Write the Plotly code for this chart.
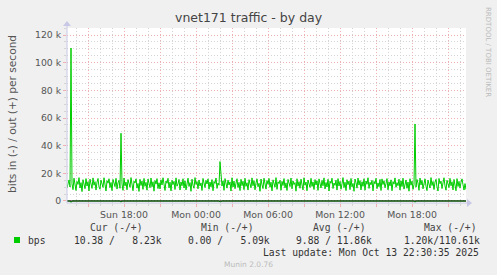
import pandas as pd
import plotly.graph_objects as go

# ---------------- data ----------------
start_time = "2025-10-12 13:15"
n_points = 400  # 5-minute samples

# out (+) traffic, kbit/s
out_k = [
    9.5, 13.8, 15.2, 10.1, 110.6, 12.4, 8.2, 16.5, 11.3, 7.6, 14.1, 12.0, 16.9, 9.4, 13.3, 6.8, 15.4, 11.7, 8.9, 16.2,
    10.8, 13.9, 7.3, 15.8, 12.2, 9.1, 16.7, 11.4, 14.0, 7.9, 13.6, 16.3, 10.2, 8.5, 15.1, 12.6, 9.8, 16.8, 11.1, 7.2,
    14.7, 12.9, 16.1, 9.7, 13.4, 7.5, 15.6, 11.8, 10.4, 16.4, 8.6, 13.1, 14.9, 9.2, 49.0, 12.3, 7.7, 16.6, 10.9, 13.7,
    8.1, 15.5, 12.1, 9.9, 16.9, 11.5, 7.4, 14.3, 13.0, 16.0, 9.3, 12.7, 6.9, 15.7, 11.2, 14.4, 8.4, 16.3, 10.6, 13.5,
    7.8, 15.9, 12.5, 9.6, 16.6, 10.3, 13.9, 7.1, 14.8, 12.2, 16.2, 9.0, 13.2, 8.7, 15.3, 11.6, 16.8, 10.0, 7.6, 14.5,
    12.8, 16.4, 9.5, 13.6, 7.3, 15.0, 11.9, 14.2, 8.3, 16.7, 10.7, 12.4, 15.6, 7.9, 13.8, 11.0, 16.1, 9.4, 14.6, 8.0,
    12.6, 16.5, 10.5, 13.3, 7.0, 15.8, 11.3, 9.2, 16.9, 12.0, 14.0, 8.8, 15.2, 10.9, 13.1, 7.6, 16.3, 11.8, 9.7, 14.9,
    12.3, 16.0, 8.5, 13.7, 10.2, 15.5, 7.4, 14.1, 12.7, 16.6, 9.1, 13.0, 11.4, 28.5, 22.0, 10.8, 14.6, 7.7, 16.2, 12.5,
    9.3, 15.1, 11.6, 13.8, 7.2, 16.8, 10.1, 14.4, 8.9, 12.9, 16.1, 9.8, 13.5, 7.5, 15.7, 11.1, 14.3, 8.2, 16.4, 10.6,
    13.2, 7.9, 15.4, 12.4, 9.6, 16.7, 11.0, 14.7, 8.1, 13.0, 16.0, 10.3, 12.8, 7.0, 15.9, 11.7, 9.0, 16.5, 13.4, 8.6,
    14.8, 12.1, 16.3, 9.9, 13.6, 7.3, 15.3, 11.5, 10.0, 16.9, 8.4, 13.9, 12.6, 15.0, 7.8, 14.2, 11.2, 16.2, 9.5, 13.1,
    7.6, 15.6, 12.0, 10.4, 16.6, 8.8, 14.5, 11.9, 13.3, 7.1, 16.1, 10.7, 14.0, 9.2, 15.8, 12.2, 8.0, 16.8, 11.4, 13.7,
    7.4, 15.2, 12.9, 9.8, 16.4, 10.5, 13.8, 8.3, 15.5, 11.6, 14.6, 7.7, 16.0, 12.3, 9.4, 14.9, 11.0, 16.7, 8.7, 13.4,
    10.1, 15.7, 7.2, 14.3, 12.8, 16.5, 9.0, 13.0, 11.3, 15.1, 7.9, 16.2, 10.8, 14.1, 8.5, 12.5, 16.9, 9.7, 13.6, 7.5,
    15.4, 11.8, 14.4, 8.2, 16.3, 10.2, 12.7, 7.0, 15.9, 13.2, 9.3, 16.6, 11.5, 14.8, 8.0, 13.9, 10.6, 16.1, 7.8, 14.5,
    12.1, 16.8, 9.1, 13.5, 11.7, 15.0, 7.3, 14.2, 12.4, 16.4, 8.9, 13.1, 10.3, 15.6, 7.6, 16.0, 11.9, 14.7, 9.6, 12.6,
    16.2, 8.1, 13.8, 10.9, 15.3, 7.4, 14.0, 12.2, 16.7, 9.9, 13.3, 11.1, 15.8, 7.9, 14.6, 10.4, 16.5, 8.6, 12.9, 15.2,
    9.2, 13.7, 7.1, 16.1, 11.4, 14.3, 8.4, 12.0, 55.7, 10.0, 15.5, 13.0, 7.7, 16.6, 11.6, 14.9, 8.8, 13.4, 16.0, 10.7,
    7.5, 15.1, 12.7, 9.4, 16.9, 11.2, 14.1, 8.3, 13.6, 15.7, 10.1, 7.2, 16.3, 12.5, 14.4, 9.0, 13.1, 16.8, 10.9, 7.8,
    15.0, 12.3, 9.7, 16.4, 11.0, 13.9, 8.0, 15.6, 12.1, 7.4, 16.2, 10.5, 14.2, 9.3, 13.5, 16.0, 11.8, 7.9, 12.6, 8.23,
]

# in (-) traffic, kbit/s (drawn negative)
in_k = [
    0.01, 0.01, 0.02, 0.01, 1.20, 0.01, 0.00, 0.01, 0.01, 0.01, 0.02, 0.01, 0.01, 0.01, 0.00, 0.01, 0.01, 0.01, 0.01, 0.02,
    0.01, 0.01, 0.01, 0.00, 0.01, 0.01, 0.01, 0.02, 0.01, 0.01, 0.01, 0.01, 0.00, 0.01, 0.01, 0.02, 0.01, 0.01, 0.01, 0.01,
    0.01, 0.00, 0.01, 0.01, 0.01, 0.02, 0.01, 0.01, 0.01, 0.01, 0.00, 0.01, 0.01, 0.01, 0.90, 0.01, 0.01, 0.02, 0.01, 0.01,
    0.01, 0.01, 0.00, 0.01, 0.01, 0.01, 0.02, 0.01, 0.01, 0.01, 0.01, 0.00, 0.01, 0.01, 0.01, 0.02, 0.01, 0.01, 0.01, 0.01,
    0.00, 0.01, 0.01, 0.01, 0.02, 0.01, 0.01, 0.01, 0.01, 0.00, 0.01, 0.01, 0.01, 0.02, 0.01, 0.01, 0.01, 0.01, 0.00, 0.01,
    0.01, 0.01, 0.02, 0.01, 0.01, 0.01, 0.01, 0.00, 0.01, 0.01, 0.01, 0.02, 0.01, 0.01, 0.01, 0.01, 0.00, 0.01, 0.01, 0.01,
    0.02, 0.01, 0.01, 0.01, 0.01, 0.00, 0.01, 0.01, 0.01, 0.02, 0.01, 0.01, 0.01, 0.01, 0.00, 0.01, 0.01, 0.01, 0.02, 0.01,
    0.01, 0.01, 0.01, 0.00, 0.01, 0.01, 0.01, 0.02, 0.01, 0.01, 0.01, 0.01, 0.00, 0.80, 0.30, 0.01, 0.01, 0.02, 0.01, 0.01,
    0.01, 0.01, 0.00, 0.01, 0.01, 0.01, 0.02, 0.01, 0.01, 0.01, 0.01, 0.00, 0.01, 0.01, 0.01, 0.02, 0.01, 0.01, 0.01, 0.01,
    0.00, 0.01, 0.01, 0.01, 0.02, 0.01, 0.01, 0.01, 0.01, 0.00, 0.01, 0.01, 0.01, 0.02, 0.01, 0.01, 0.01, 0.01, 0.00, 0.01,
    0.01, 0.01, 0.02, 0.01, 0.01, 0.01, 0.01, 0.00, 0.01, 0.01, 0.01, 0.02, 0.01, 0.01, 0.01, 0.01, 0.00, 0.01, 0.01, 0.01,
    0.02, 0.01, 0.01, 0.01, 0.01, 0.00, 0.01, 0.01, 0.01, 0.02, 0.01, 0.01, 0.01, 0.01, 0.00, 0.01, 0.01, 0.01, 0.02, 0.01,
    0.01, 0.01, 0.01, 0.00, 0.01, 0.01, 0.01, 0.02, 0.01, 0.01, 0.01, 0.01, 0.00, 0.01, 0.01, 0.01, 0.02, 0.01, 0.01, 0.01,
    0.01, 0.00, 0.01, 0.01, 0.01, 0.02, 0.01, 0.01, 0.01, 0.01, 0.00, 0.01, 0.01, 0.01, 0.02, 0.01, 0.01, 0.01, 0.01, 0.00,
    0.01, 0.01, 0.01, 0.02, 0.01, 0.01, 0.01, 0.01, 0.00, 0.01, 0.01, 0.01, 0.02, 0.01, 0.01, 0.01, 0.01, 0.00, 0.01, 0.01,
    0.01, 0.02, 0.01, 0.01, 0.01, 0.01, 0.00, 0.01, 0.01, 0.01, 0.02, 0.01, 0.01, 0.01, 0.01, 0.00, 0.01, 0.01, 0.01, 0.02,
    0.01, 0.01, 0.01, 0.01, 0.00, 0.01, 0.01, 0.01, 0.02, 0.01, 0.01, 0.01, 0.01, 0.00, 0.01, 0.01, 0.01, 0.02, 0.01, 0.01,
    0.01, 0.01, 0.00, 0.01, 0.01, 0.01, 0.02, 0.01, 1.00, 0.01, 0.01, 0.00, 0.01, 0.01, 0.01, 0.02, 0.01, 0.01, 0.01, 0.01,
    0.00, 0.01, 0.01, 0.01, 0.02, 0.01, 0.01, 0.01, 0.01, 0.00, 0.01, 0.01, 0.01, 0.02, 0.01, 0.01, 0.01, 0.01, 0.00, 0.01,
    0.01, 0.01, 0.02, 0.01, 0.01, 0.01, 0.01, 0.00, 0.01, 0.01, 0.01, 0.02, 0.01, 0.01, 0.01, 0.01, 0.00, 0.01, 0.01, 0.0104,
]

y_tick_vals = [0, 20, 40, 60, 80, 100, 120]
y_tick_text = ["0", "20 k", "40 k", "60 k", "80 k", "100 k", "120 k"]

x_tick_vals = ["2025-10-12 15:00", "2025-10-12 18:00", "2025-10-12 21:00", "2025-10-13 00:00",
               "2025-10-13 03:00", "2025-10-13 06:00", "2025-10-13 09:00", "2025-10-13 12:00",
               "2025-10-13 15:00", "2025-10-13 18:00", "2025-10-13 21:00"]
x_tick_text = ["", "Sun 18:00", "", "Mon 00:00", "", "Mon 06:00", "", "Mon 12:00", "", "Mon 18:00", ""]

title_text = "vnet171 traffic - by day"
y_title = "bits in (-) / out (+) per second"
legend_name = "bps"
col_heads = ["Cur (-/+)", "Min (-/+)", "Avg (-/+)", "Max (-/+)"]
col_vals = ["10.38 /   8.23k", "0.00 /   5.09k", "9.88 / 11.86k", "1.20k/110.61k"]
last_update = "Last update: Mon Oct 13 22:30:35 2025"
watermark = "RRDTOOL / TOBI OETIKER"
footer = "Munin 2.0.76"

# ---------------- geometry ----------------
W, H = 497, 275
L, R, T, B = 67, 466, 28, 203
PW, PH = R - L, B - T


def px(x):
    return (x - L) / PW


def py(y):
    return (B - y) / PH


times = pd.date_range(start_time, periods=n_points, freq="5min")
in_neg = [-v for v in in_k]

GREEN = "#00CC00"
fig = go.Figure()
fig.add_trace(go.Scatter(x=times, y=in_neg, mode="lines",
                         line=dict(color=GREEN, width=1), hoverinfo="skip"))
fig.add_trace(go.Scatter(x=times, y=out_k, mode="lines",
                         line=dict(color=GREEN, width=1), hoverinfo="skip"))

MAJ = "#eeb0b0"
MIN = "#d4d4d4"
DASH = "1px,2px"
fig.update_xaxes(
    range=[times[0], times[-1]],
    tickmode="array", tickvals=x_tick_vals, ticktext=x_tick_text,
    showgrid=True, gridcolor=MAJ, griddash=DASH, gridwidth=1,
    ticks="outside", ticklen=3, tickcolor=MAJ,
    minor=dict(dtick=3600000, tick0="2025-10-12 14:00", showgrid=True,
               gridcolor=MIN, griddash=DASH, ticks="outside", ticklen=2, tickcolor=MIN),
    showline=False, zeroline=False,
    tickfont=dict(family="DejaVu Sans", size=9.4, color="#555555"),
    fixedrange=True,
)
fig.update_yaxes(
    range=[-1.45, 125.1],
    tickmode="array", tickvals=y_tick_vals, ticktext=y_tick_text,
    showgrid=True, gridcolor=MAJ, griddash=DASH, gridwidth=1,
    ticks="outside", ticklen=3, tickcolor=MAJ,
    minor=dict(dtick=5, tick0=0, showgrid=True, gridcolor=MIN, griddash=DASH,
               ticks="outside", ticklen=2, tickcolor=MIN),
    showline=False, zeroline=False,
    tickfont=dict(family="DejaVu Sans", size=9.3, color="#555555"),
    fixedrange=True,
)

AX = "#c8c8e6"
shapes = [
    # zero line
    dict(type="line", xref="paper", yref="y", x0=0, x1=1, y0=0, y1=0,
         line=dict(color="#000000", width=1)),
    # axes
    dict(type="line", xref="paper", yref="paper", x0=0, x1=px(468), y0=0, y1=0,
         line=dict(color=AX, width=1)),
    dict(type="line", xref="paper", yref="paper", x0=0, x1=0, y0=0, y1=py(25),
         line=dict(color=AX, width=1)),
    # arrows
    dict(type="path", xref="paper", yref="paper",
         path=f"M {px(467)} {py(199)} L {px(472)} {py(203)} L {px(467)} {py(207)} Z",
         fillcolor=AX, line=dict(color=AX, width=0)),
    dict(type="path", xref="paper", yref="paper",
         path=f"M {px(63)} {py(26)} L {px(67)} {py(21)} L {px(71)} {py(26)} Z",
         fillcolor=AX, line=dict(color=AX, width=0)),
    # legend swatch
    dict(type="rect", xref="paper", yref="paper",
         x0=px(14), x1=px(20), y0=py(243), y1=py(237),
         fillcolor=GREEN, line=dict(width=0)),
]

MONO = "DejaVu Sans Mono"
TXT = "#333333"
ann = []


def add_text(text, x, y, size, color, family, xanchor="left", angle=0):
    ann.append(dict(text=text, x=px(x), y=py(y), xref="paper", yref="paper",
                    xanchor=xanchor, yanchor="middle", showarrow=False,
                    textangle=angle,
                    font=dict(family=family, size=size, color=color)))


MS = 9.7
add_text(title_text, 248.5, 18, 12.5, "#444444", "DejaVu Sans", xanchor="center")
add_text(y_title, 12, 114, 10.6, "#555555", "DejaVu Sans", xanchor="center", angle=-90)
add_text(watermark, 488, 52, 7, "#bbbbbb", "DejaVu Sans", xanchor="center", angle=90)

head_x = [89, 200, 312, 423]
val_x = [73, 187, 295, 403]
for h, x in zip(col_heads, head_x):
    add_text(h, x - 1, 227, MS, "#444444", MONO)
for v, x in zip(col_vals, val_x):
    add_text(v, x - 1, 240, MS, TXT, MONO)
add_text(legend_name, 26, 240, MS, TXT, MONO)
add_text(last_update, 261, 252, MS, TXT, MONO)
add_text(footer, 248, 264, 7.5, "#bbbbbb", "DejaVu Sans", xanchor="center")

fig.update_layout(
    width=W, height=H,
    margin=dict(l=L, r=W - R, t=T, b=H - B, pad=0),
    paper_bgcolor="#F0F0F0", plot_bgcolor="#FFFFFF",
    showlegend=False,
    shapes=shapes, annotations=ann,
)

fig.write_html("out.html")
